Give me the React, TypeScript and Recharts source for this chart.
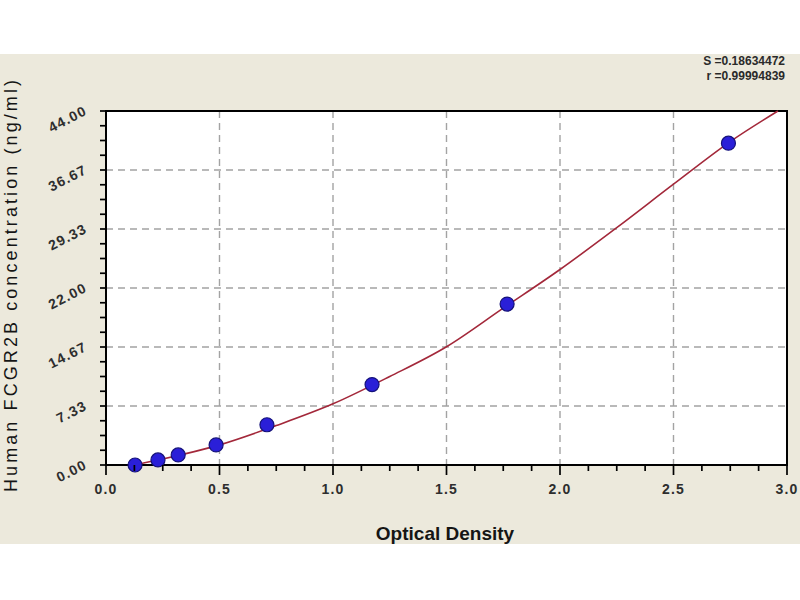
import { ComposedChart, Line, Scatter, XAxis, YAxis, CartesianGrid, ReferenceArea } from "recharts";

// standards: optical density vs concentration (ng/ml)
const odValues = [0.128, 0.229, 0.318, 0.485, 0.709, 1.172, 1.767, 2.742];
const concValues = [0, 0.625, 1.25, 2.5, 5, 10, 20, 40];

// fitted curve
const curveOd = [0.12, 0.25, 0.5, 0.75, 1.0, 1.25, 1.5, 1.75, 2.0, 2.25, 2.5, 2.75, 2.96];
const curveConc = [0, 0.75, 2.5, 4.9, 7.6, 11.0, 14.7, 19.5, 24.3, 29.5, 34.9, 40.2, 44];

const xMajor = [0, 0.5, 1, 1.5, 2, 2.5, 3];
const xLabels = ["0.0", "0.5", "1.0", "1.5", "2.0", "2.5", "3.0"];
const yMajor = [0, 44 / 6, 88 / 6, 22, 176 / 6, 220 / 6, 44];
const yLabels = ["0.00", "7.33", "14.67", "22.00", "29.33", "36.67", "44.00"];

const statLines = ["S =0.18634472", "r =0.99994839"];

// 4 sub-intervals between every pair of major ticks
const subdivide = (majors: number[], n: number) => {
  const out: number[] = [];
  majors.forEach((m, i) => {
    out.push(m);
    if (i < majors.length - 1) {
      const step = (majors[i + 1] - m) / n;
      for (let k = 1; k < n; k++) out.push(m + step * k);
    }
  });
  return out;
};

const xTicks = subdivide(xMajor, 4);
const yTicks = subdivide(yMajor, 4);

const points = odValues.map((x, i) => ({ x, y: concValues[i] }));
const curve = curveOd.map((x, i) => ({ x, y: curveConc[i] }));

const tickFont = "'Liberation Sans', Arial, sans-serif";

function XTick(props: any) {
  const { x, y, payload } = props;
  const idx = xMajor.indexOf(payload.value);
  const major = idx >= 0;
  return (
    <g>
      <path d={`M${x},${y}V${y + (major ? 10 : 6)}`} stroke="#000" strokeWidth={1.7} fill="none" />
      {major && (
        <text
          x={x}
          y={y + 29}
          textAnchor="middle"
          fontFamily={tickFont}
          fontWeight="bold"
          fontSize={14}
          letterSpacing={1.2}
          fill="#2e2e2e"
        >
          {xLabels[idx]}
        </text>
      )}
    </g>
  );
}

function YTick(props: any) {
  const { x, y, payload } = props;
  const idx = yMajor.indexOf(payload.value);
  const tx = x - 18;
  const ty = y + 3;
  return (
    <g>
      <path d={`M${x - 6},${y}H${x}`} stroke="#000" strokeWidth={1.7} fill="none" />
      {idx >= 0 && (
        <text
          x={tx}
          y={ty}
          textAnchor="end"
          transform={`rotate(-27 ${tx} ${ty})`}
          fontFamily={tickFont}
          fontWeight="bold"
          fontSize={14}
          letterSpacing={1.2}
          fill="#2e2e2e"
        >
          {yLabels[idx]}
        </text>
      )}
    </g>
  );
}

function Dot(props: any) {
  return <circle cx={props.cx} cy={props.cy} r={7} fill="#2a1fd8" stroke="#15127a" strokeWidth={1.2} />;
}

export default function App() {
  return (
    <div style={{ position: "absolute", left: 0, top: 0, width: 800, height: 600, background: "#fff" }}>
      <div style={{ position: "absolute", left: 0, top: 54, width: 800, height: 490, background: "#ece9dc" }} />
      <div style={{ position: "absolute", left: 0, top: 0 }}>
        <ComposedChart width={800} height={600} margin={{ top: 111, right: 13, bottom: 134, left: 105 }}>
          <CartesianGrid
            fill="#fff"
            fillOpacity={1}
            stroke="#a3a3a3"
            strokeWidth={1.4}
            strokeDasharray="7 5"
            horizontalValues={yMajor.slice(1, -1)}
            verticalValues={xMajor.slice(1, -1)}
          />
          <XAxis
            dataKey="x"
            type="number"
            domain={[0, 3]}
            ticks={xTicks}
            interval={0}
            height={1}
            tickSize={0}
            tickMargin={0}
            tickLine={false}
            tick={<XTick />}
            axisLine={{ stroke: "#000", strokeWidth: 2 }}
          />
          <YAxis
            type="number"
            domain={[0, 44]}
            ticks={yTicks}
            interval={0}
            width={1}
            tickSize={0}
            tickMargin={0}
            tickLine={false}
            tick={<YTick />}
            axisLine={{ stroke: "#000", strokeWidth: 2 }}
          />
          <ReferenceArea x1={0} x2={3} y1={0} y2={44} fill="none" stroke="#000" strokeWidth={2} />
          <Line
            data={curve}
            dataKey="y"
            type="monotone"
            stroke="#a3283a"
            strokeWidth={1.6}
            dot={false}
            activeDot={false}
            isAnimationActive={false}
          />
          <Scatter data={points} dataKey="y" shape={<Dot />} isAnimationActive={false} />
        </ComposedChart>
      </div>
      <svg width={800} height={600} style={{ position: "absolute", left: 0, top: 0, pointerEvents: "none" }}>
        <text
          transform="rotate(-90)"
          x={-286}
          y={17}
          textAnchor="middle"
          fontFamily={tickFont}
          fontSize={18}
          fill="#151515"
          textLength={412}
          lengthAdjust="spacing"
        >
          Human FCGR2B concentration (ng/ml)
        </text>
        <text x={445} y={540} textAnchor="middle" fontFamily={tickFont} fontWeight="bold" fontSize={19} fill="#151515">
          Optical Density
        </text>
        {statLines.map((s, i) => (
          <text
            key={s}
            x={785}
            y={65 + i * 15}
            textAnchor="end"
            fontFamily="'Liberation Sans Narrow', 'Liberation Sans', Arial, sans-serif"
            fontWeight="bold"
            fontSize={12}
            fill="#2a2a2a"
          >
            {s}
          </text>
        ))}
      </svg>
    </div>
  );
}
